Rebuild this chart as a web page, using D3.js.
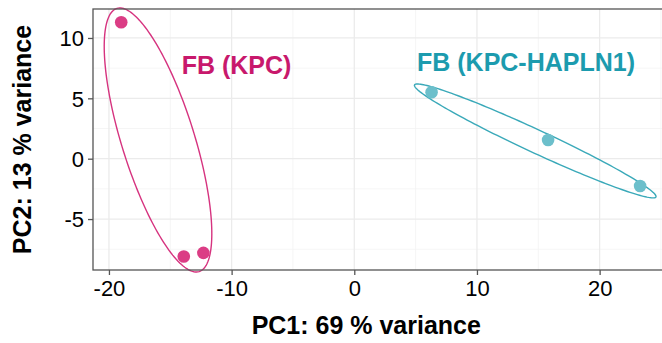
<!DOCTYPE html>
<html>
<head>
<meta charset="utf-8">
<script src="https://cdn.jsdelivr.net/npm/d3@7"></script>
<style>
  body { margin: 0; background: #fff; }
  svg { display: block; font-family: "Liberation Sans", Arial, sans-serif; }
</style>
</head>
<body>
<div id="chart"></div>
<script>
// PCA scores
const groups = ['FB (KPC)', 'FB (KPC-HAPLN1)'];
const pc1Kpc = [-19.0, -13.9, -12.3];
const pc2Kpc = [11.3, -8.1, -7.8];
const pc1Hapln = [6.3, 15.8, 23.3];
const pc2Hapln = [5.5, 1.55, -2.26];

// ellipse per group: centre, half major axis, half minor axis (data units)
const ellCenter = [[-16.0, 1.55], [14.75, 1.47]];
const ellMajor = [[3.35, -10.9], [9.84, -4.64]];
const ellMinor = [[2.83, 0.89], [-0.40, -0.86]];

// group label anchor (data units)
const labelPos = [[-9.6, 7.0], [14.0, 7.3]];

const xTicks = [-20, -10, 0, 10, 20];
const xMinor = [-15, -5, 5, 15, 25];
const yTicks = [-5, 0, 5, 10];
const yMinor = [-7.5, -2.5, 2.5, 7.5];

const xTitle = 'PC1: 69 % variance';
const yTitle = 'PC2: 13 % variance';

const width = 662, height = 343;
const margin = { top: 9, right: -10, bottom: 73, left: 93 };
const innerW = width - margin.left - margin.right;
const innerH = height - margin.top - margin.bottom;

const pointCol = ['#db3d85', '#6cbfcb'];
const lineCol = ['#d6337f', '#3aa9b9'];
const textCol = ['#c8186c', '#1c9bae'];

const svg = d3.select('#chart').append('svg')
  .attr('width', width).attr('height', height);

const x = d3.scaleLinear().domain([-21.3, 25.9]).range([0, innerW]);
const y = d3.scaleLinear().domain([-9.22, 12.4]).range([innerH, 0]);

const g = svg.append('g').attr('transform', `translate(${margin.left},${margin.top})`);

// grid lines
g.selectAll('.xminor').data(xMinor).enter().append('line')
  .attr('x1', d => x(d)).attr('x2', d => x(d)).attr('y1', 0).attr('y2', innerH)
  .attr('stroke', '#f2f2f2').attr('stroke-width', 0.8);
g.selectAll('.yminor').data(yMinor).enter().append('line')
  .attr('y1', d => y(d)).attr('y2', d => y(d)).attr('x1', 0).attr('x2', innerW)
  .attr('stroke', '#f2f2f2').attr('stroke-width', 0.8);
g.selectAll('.xmajor').data(xTicks).enter().append('line')
  .attr('x1', d => x(d)).attr('x2', d => x(d)).attr('y1', 0).attr('y2', innerH)
  .attr('stroke', '#ebebeb').attr('stroke-width', 1.3);
g.selectAll('.ymajor').data(yTicks).enter().append('line')
  .attr('y1', d => y(d)).attr('y2', d => y(d)).attr('x1', 0).attr('x2', innerW)
  .attr('stroke', '#ebebeb').attr('stroke-width', 1.3);

// ellipses, traced in data space then scaled
const ellipseLine = d3.line().x(d => x(d[0])).y(d => y(d[1])).curve(d3.curveLinearClosed);
groups.forEach((grp, i) => {
  const pts = d3.range(0, 360, 2).map(a => {
    const t = a * Math.PI / 180;
    return [
      ellCenter[i][0] + ellMajor[i][0] * Math.cos(t) + ellMinor[i][0] * Math.sin(t),
      ellCenter[i][1] + ellMajor[i][1] * Math.cos(t) + ellMinor[i][1] * Math.sin(t)
    ];
  });
  g.append('path')
    .attr('d', ellipseLine(pts))
    .attr('fill', 'none')
    .attr('stroke', lineCol[i])
    .attr('stroke-width', 1.4);
});

// points
const series = [
  d3.zip(pc1Kpc, pc2Kpc),
  d3.zip(pc1Hapln, pc2Hapln)
];
series.forEach((pts, i) => {
  g.selectAll('.pt' + i).data(pts).enter().append('circle')
    .attr('cx', d => x(d[0]))
    .attr('cy', d => y(d[1]))
    .attr('r', 6.3)
    .attr('fill', pointCol[i]);
});

// group labels
groups.forEach((grp, i) => {
  g.append('text')
    .attr('x', x(labelPos[i][0]))
    .attr('y', y(labelPos[i][1]))
    .attr('text-anchor', 'middle')
    .style('font-size', '25px')
    .style('font-weight', 'bold')
    .style('fill', textCol[i])
    .text(grp);
});

// panel border (right side runs off the picture)
g.append('rect')
  .attr('x', 0).attr('y', 0).attr('width', innerW).attr('height', innerH)
  .attr('fill', 'none').attr('stroke', '#555').attr('stroke-width', 1.3);

// axes - plain hyphen for negatives like the original
const xAxis = d3.axisBottom(x).tickValues(xTicks).tickSize(5).tickPadding(5).tickFormat(d => String(d));
const yAxis = d3.axisLeft(y).tickValues(yTicks).tickSize(5).tickPadding(4).tickFormat(d => String(d));

const gx = g.append('g').attr('transform', `translate(0,${innerH})`).call(xAxis);
const gy = g.append('g').call(yAxis);
[gx, gy].forEach(ax => {
  ax.select('.domain').remove();
  ax.selectAll('.tick line').attr('stroke', '#555').attr('stroke-width', 1.3);
  ax.selectAll('.tick text')
    .style('font-size', '22px')
    .style('font-family', '"Liberation Sans", Arial, sans-serif')
    .attr('fill', '#000');
});
gy.selectAll('.tick text').attr('dy', '0.36em');

// axis titles
svg.append('text')
  .attr('x', margin.left + x(0) + 12)
  .attr('y', 334)
  .attr('text-anchor', 'middle')
  .style('font-size', '25px')
  .style('font-weight', 'bold')
  .text(xTitle);

svg.append('text')
  .attr('transform', `translate(31,${margin.top + innerH / 2}) rotate(-90)`)
  .attr('text-anchor', 'middle')
  .style('font-size', '25px')
  .style('font-weight', 'bold')
  .text(yTitle);
</script>
</body>
</html>
